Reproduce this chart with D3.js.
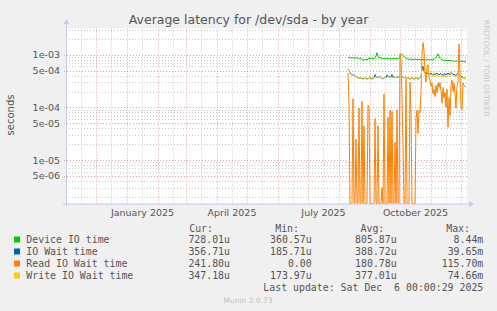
<!DOCTYPE html>
<html><head><meta charset="utf-8">
<script src="https://cdn.jsdelivr.net/npm/d3@7/dist/d3.min.js"></script>
<style>
body{margin:0;background:#f0f0f0;}
svg{display:block}
text{white-space:pre}
</style>
</head><body>
<svg id="c" width="497" height="311"></svg>
<script>
// ---------- data (values in microseconds, one point per day) ----------
const startDate = "2025-08-10";
const deviceIO = [
 900, 890, 880, 870, 860, 880, 870, 860, 870, 880,
 860, 850, 860, 840, 810, 800, 790, 800, 810, 790,
 820, 850, 840, 860, 850, 830, 840, 860, 950, 1090,
 940, 890, 880, 870, 840, 850, 830, 840, 860, 840,
 830, 850, 840, 820, 840, 850, 830, 840, 850, 830,
 840, 860, 920, 980, 1020, 960, 920, 890, 860, 840,
 830, 820, 810, 830, 820, 800, 810, 830, 820, 810,
 800, 820, 810, 800, 810, 800, 820, 810, 790, 800,
 810, 800, 790, 810, 800, 810, 820, 840, 880, 960,
 1040, 930, 860, 820, 800, 790, 780, 790, 780, 770,
 780, 780, 770, 760, 770, 760, 750, 760, 750, 760,
 750, 740, 750, 760, 750, 740, 750, 730, 728];
const ioWait = [
 530, 500, 450, 430, 420, 410, 405, 395, 385, 375,
 365, 365, 355, 365, 355, 345, 355, 365, 355, 345,
 355, 355, 365, 355, 345, 355, 365, 420, 385, 375,
 365, 375, 385, 365, 345, 355, 365, 375, 365, 415,
 385, 375, 385, 375, 420, 375, 385, 375, 365, 375,
 385, 375, 365, 375, 385, 375, 365, 375, 365, 355,
 365, 355, 345, 355, 365, 355, 345, 355, 365, 355,
 345, 355, 365, 385, 540, 600, 480, 450, 440, 460,
 430, 440, 420, 450, 430, 410, 440, 420, 430, 450,
 420, 410, 430, 440, 420, 400, 430, 440, 410, 430,
 450, 420, 430, 460, 440, 420, 430, 410, 400, 430,
 450, 430, 410, 390, 380, 370, 360, 358, 356.7];
const readIOWait = [
 450, 120, 0, 0, 0, 146, 0, 0, 25, 0,
 0, 97, 0, 0, 130, 0, 45, 0, 0, 0,
 110, 100, 0, 0, 0, 0, 0, 61, 0, 0,
 45, 0, 0, 0, 3, 0, 180, 0, 0, 0,
 65, 0, 88, 0, 85, 0, 0, 22, 0, 90,
 0, 0, 1050, 800, 150, 20, 0, 0, 350, 0,
 0, 0, 300, 80, 0, 0, 0, 0, 62, 88,
 32, 88, 80, 200, 1000, 1700, 1200, 440, 300, 550,
 650, 370, 330, 250, 290, 180, 220, 160, 260, 190,
 290, 240, 300, 200, 120, 240, 150, 190, 100, 220,
 42, 150, 70, 260, 330, 200, 290, 180, 96, 250,
 300, 1600, 400, 100, 90, 290, 260, 250, 241.8];
const writeIOWait = [
 520, 490, 440, 420, 410, 400, 400, 390, 380, 370,
 360, 360, 350, 360, 350, 340, 350, 360, 350, 340,
 350, 350, 360, 350, 340, 350, 360, 370, 380, 370,
 360, 370, 380, 360, 340, 350, 360, 370, 360, 370,
 380, 370, 380, 370, 360, 370, 380, 370, 360, 370,
 380, 370, 360, 370, 380, 370, 360, 370, 360, 350,
 360, 350, 340, 350, 360, 350, 340, 350, 360, 350,
 340, 350, 360, 380, 520, 500, 460, 480, 550, 630,
 500, 440, 420, 400, 430, 390, 410, 380, 400, 420,
 390, 380, 400, 390, 410, 380, 390, 400, 370, 390,
 420, 400, 380, 440, 410, 390, 400, 380, 390, 410,
 430, 460, 400, 380, 360, 370, 360, 350, 347.2];

const seriesNames  = ["Device IO time", "IO Wait time", "Read IO Wait time", "Write IO Wait time"];
const seriesColors = ["#00cc00", "#0066b3", "#ff8000", "#ffcc00"];
const curLabels = ["728.01u", "356.71u", "241.80u", "347.18u"];
const minLabels = ["360.57u", "185.71u", "0.00", "173.97u"];
const avgLabels = ["805.87u", "388.72u", "180.78u", "377.01u"];
const maxLabels = ["8.44m", "39.65m", "115.70m", "74.66m"];

const yTickValues = [1e-3, 5e-4, 1e-4, 5e-5, 1e-5, 5e-6];
const yTickLabels = ["1e-03", "5e-04", "1e-04", "5e-05", "1e-05", "5e-06"];
const xLabelDates = ["2025-01-16T12:00:00Z", "2025-04-16T00:00:00Z", "2025-07-16T12:00:00Z", "2025-10-16T12:00:00Z"];
const xLabelTexts = ["January 2025", "April 2025", "July 2025", "October 2025"];

const titleText = "Average latency for /dev/sda - by year";
const lastUpdate = "Last update: Sat Dec  6 00:00:29 2025";

// ---------- layout ----------
const svg = d3.select("#c");
const L = 66, R = 466, T = 28.5, B = 203.5;
const x = d3.scaleUtc()
  .domain([new Date("2024-11-01T00:00:00Z"), new Date("2025-12-06T00:00:00Z")])
  .range([L, R]);
const yMin = Math.pow(10, -5.824), yMax = Math.pow(10, -2.503);
const y = d3.scaleLog().domain([yMin, yMax]).range([B, T]);

const FONT = "'DejaVu Sans', sans-serif";
const MONO = "'DejaVu Sans Mono', monospace";

svg.append("rect").attr("x", L).attr("y", T).attr("width", R - L + 1).attr("height", B - T).attr("fill", "#ffffff");

// horizontal grid
const minorY = [], majorY = [];
for (let e = -6; e <= -3; e++) {
  for (let k = 1; k <= 9; k++) {
    const v = k * Math.pow(10, e);
    if (v < yMin || v > yMax) continue;
    (k === 1 || k === 5 ? majorY : minorY).push(v);
  }
}
const gGrid = svg.append("g");
gGrid.selectAll("line.hmin").data(minorY).join("line")
  .attr("x1", L).attr("x2", R + 1)
  .attr("y1", d => Math.round(y(d)) + 0.5).attr("y2", d => Math.round(y(d)) + 0.5)
  .attr("stroke", "#c8c8c8").attr("stroke-dasharray", "1,2").attr("stroke-width", 1);

// vertical grid
const monthStarts = d3.utcMonths(new Date("2024-11-01T00:00:00Z"), new Date("2025-12-06T00:00:00Z"));
const midMonths = monthStarts.map(d => d3.utcDay.offset(d, 15)).filter(d => x(d) < R);
gGrid.selectAll("line.vmin").data(midMonths).join("line")
  .attr("y1", T).attr("y2", B)
  .attr("x1", d => Math.round(x(d)) + 0.5).attr("x2", d => Math.round(x(d)) + 0.5)
  .attr("stroke", "#c8c8c8").attr("stroke-dasharray", "1,2");
gGrid.selectAll("line.hmaj").data(majorY).join("line")
  .attr("x1", L - 2).attr("x2", R + 1)
  .attr("y1", d => Math.round(y(d)) + 0.5).attr("y2", d => Math.round(y(d)) + 0.5)
  .attr("stroke", "#e8a0a0").attr("stroke-dasharray", "1,2");
gGrid.selectAll("line.vmaj").data(monthStarts.filter(d => x(d) > L)).join("line")
  .attr("y1", T).attr("y2", B + 2)
  .attr("x1", d => Math.round(x(d)) + 0.5).attr("x2", d => Math.round(x(d)) + 0.5)
  .attr("stroke", "#e8a0a0").attr("stroke-dasharray", "1,2");

// y tick labels
svg.append("g").selectAll("text").data(yTickValues).join("text")
  .attr("x", 60).attr("y", d => y(d) + 3.5)
  .attr("text-anchor", "end").attr("font-family", FONT).attr("font-size", 9.5).attr("fill", "#555")
  .text((d, i) => yTickLabels[i]);

// x labels
svg.append("g").selectAll("text").data(xLabelDates).join("text")
  .attr("x", d => x(new Date(d))).attr("y", 216)
  .attr("text-anchor", "middle").attr("font-family", FONT).attr("font-size", 9.5).attr("fill", "#555")
  .text((d, i) => xLabelTexts[i]);

// series
const start = new Date(startDate + "T00:00:00Z");
const allSeries = [deviceIO, ioWait, readIOWait, writeIOWait];
const line = d3.line()
  .x((d, i) => x(d3.utcDay.offset(start, i)))
  .y(d => y(Math.max(d * 1e-6, yMin)));
svg.append("g").selectAll("path").data(allSeries).join("path")
  .attr("d", d => line(d))
  .attr("fill", "none")
  .attr("stroke", (d, i) => seriesColors[i])
  .attr("stroke-width", 1);

// axes
const axisColor = "#c4cbf0";
svg.append("line").attr("x1", L + 0.5).attr("x2", L + 0.5).attr("y1", B + 3).attr("y2", 23).attr("stroke", axisColor);
svg.append("line").attr("x1", L - 3).attr("x2", R + 3).attr("y1", B + 0.5).attr("y2", B + 0.5).attr("stroke", axisColor);
svg.append("path").attr("d", `M${L - 2.5},24 L${L + 0.5},19 L${L + 3.5},24 Z`).attr("fill", axisColor);
svg.append("path").attr("d", `M${R + 3},${B - 2.5} L${R + 8},${B + 0.5} L${R + 3},${B + 3.5} Z`).attr("fill", axisColor);

// title & texts
svg.append("text").attr("x", 248.5).attr("y", 24).attr("text-anchor", "middle")
  .attr("font-family", FONT).attr("font-size", 12.5).attr("fill", "#555").text(titleText);
svg.append("text").attr("transform", "translate(14,115) rotate(-90)").attr("text-anchor", "middle")
  .attr("font-family", FONT).attr("font-size", 10).attr("fill", "#555").text("seconds");
svg.append("text").attr("transform", "translate(484,20) rotate(90)").attr("text-anchor", "start")
  .attr("font-family", FONT).attr("font-size", 7.5).attr("fill", "#c8c8c8").text("RRDTOOL / TOBI OETIKER");

// legend
const lg = svg.append("g").attr("font-family", MONO).attr("font-size", 9.9).attr("fill", "#555");
const headers = [["Cur:", 213], ["Min:", 299], ["Avg:", 384.3], ["Max:", 470]];
headers.forEach(h => lg.append("text").attr("x", h[0] && h[1]).attr("y", 231.5).attr("text-anchor", "end").text(h[0]));
const rowY = i => 243 + i * 12;
seriesNames.forEach((n, i) => {
  lg.append("rect").attr("x", 14).attr("y", rowY(i) - 6.5).attr("width", 6).attr("height", 6).attr("fill", seriesColors[i]);
  lg.append("text").attr("x", 26.3).attr("y", rowY(i)).text(n);
  lg.append("text").attr("x", 230).attr("y", rowY(i)).attr("text-anchor", "end").text(curLabels[i]);
  lg.append("text").attr("x", 311.7).attr("y", rowY(i)).attr("text-anchor", "end").text(minLabels[i]);
  lg.append("text").attr("x", 396.7).attr("y", rowY(i)).attr("text-anchor", "end").text(avgLabels[i]);
  lg.append("text").attr("x", 483.3).attr("y", rowY(i)).attr("text-anchor", "end").text(maxLabels[i]);
});
lg.append("text").attr("x", 483.3).attr("y", rowY(4)).attr("text-anchor", "end").text(lastUpdate);
svg.append("text").attr("x", 248).attr("y", 303).attr("text-anchor", "middle")
  .attr("font-family", FONT).attr("font-size", 7.5).attr("fill", "#c0c0c0").text("Munin 2.0.73");
</script>
</body></html>
